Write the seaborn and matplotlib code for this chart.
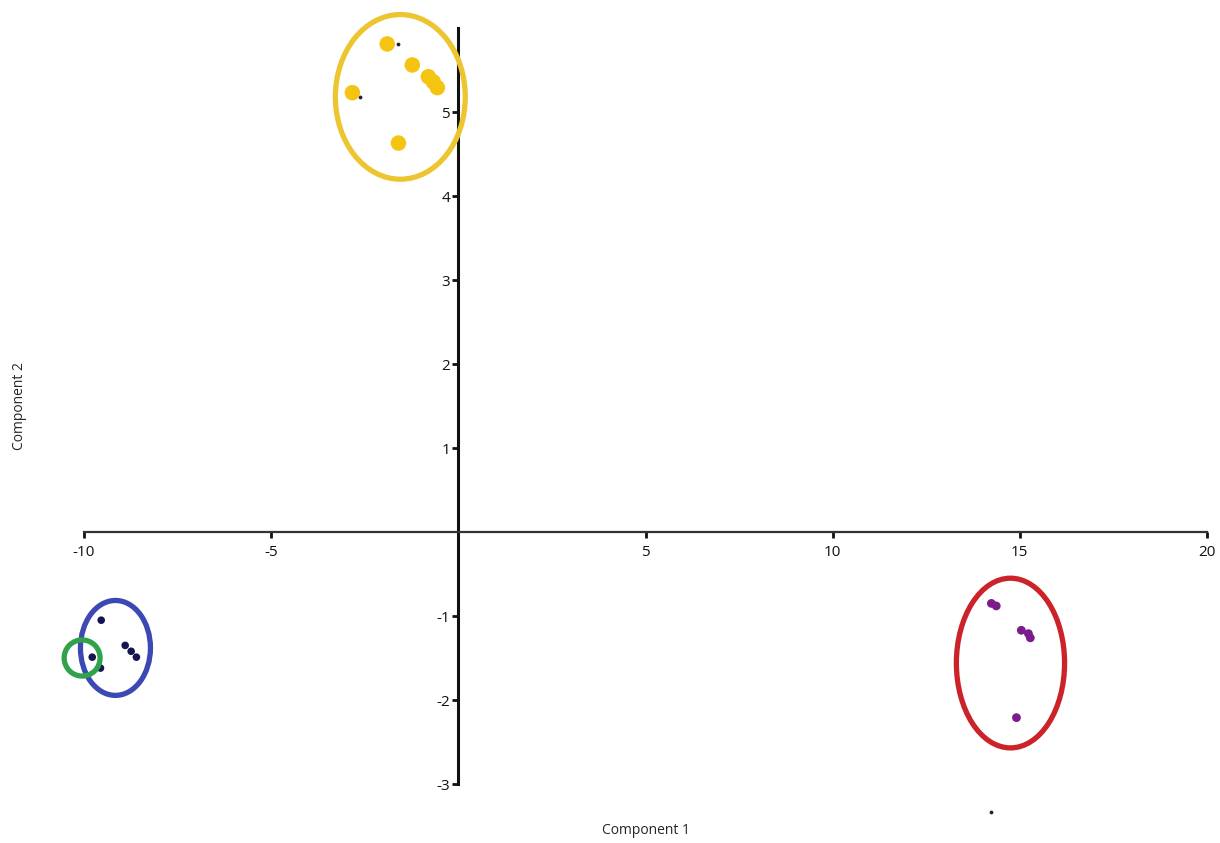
import numpy as np
import pandas as pd
import matplotlib
matplotlib.use("Agg")
import matplotlib.pyplot as plt
from matplotlib.patches import Ellipse
import seaborn as sns

# cluster points (Component 1, Component 2)
yellow_x = [-1.90, -1.23, -0.80, -0.67, -0.56, -2.83, -1.60]
yellow_y = [5.81, 5.56, 5.42, 5.36, 5.29, 5.23, 4.63]
navy_x = [-9.54, -8.90, -8.74, -8.60, -9.78, -9.56]
navy_y = [-1.05, -1.35, -1.42, -1.49, -1.49, -1.62]
purple_x = [14.24, 14.37, 15.04, 15.23, 15.28, 14.91]
purple_y = [-0.85, -0.88, -1.17, -1.21, -1.26, -2.21]
stray_x = [-2.62, -1.60, 14.24]
stray_y = [5.18, 5.81, -3.33]

x_ticks = [-10, -5, 5, 10, 15, 20]
y_ticks = [-3, -2, -1, 1, 2, 3, 4, 5]

df = pd.DataFrame({
    "c1": yellow_x + navy_x + purple_x,
    "c2": yellow_y + navy_y + purple_y,
    "group": ["yellow"] * len(yellow_x) + ["navy"] * len(navy_x) + ["purple"] * len(purple_x),
})

sns.set_style("white")
plt.rcParams['font.family'] = ['Open Sans', 'DejaVu Sans']

fig = plt.figure(figsize=(12.2, 8.43), dpi=100)
ax = fig.add_axes([84 / 1220, 1 - 784 / 843, 1123 / 1220, 756 / 843])

sns.scatterplot(data=df[df.group == "yellow"], x="c1", y="c2", color="#F5C413",
                s=125, edgecolor="none", ax=ax, legend=False, zorder=3)
sns.scatterplot(data=df[df.group == "navy"], x="c1", y="c2", color="#15154F",
                s=30, edgecolor="none", ax=ax, legend=False, zorder=3)
sns.scatterplot(data=df[df.group == "purple"], x="c1", y="c2", color="#7B1C8C",
                s=40, edgecolor="none", ax=ax, legend=False, zorder=3)
ax.scatter(stray_x, stray_y, s=3, color="#222244", zorder=2, clip_on=False)

# hand-drawn cluster rings
rings = [
    ((-1.55, 5.18), 3.47, 1.96, "#EDC530"),
    ((-9.16, -1.38), 1.87, 1.13, "#3C48B3"),
    ((-10.05, -1.50), 0.96, 0.43, "#2FA24A"),
    ((14.75, -1.56), 2.89, 2.02, "#CC2229"),
]
for (cx, cy), w, h, col in rings:
    ax.add_patch(Ellipse((cx, cy), w, h, fill=False, edgecolor=col, lw=3.8,
                         zorder=4, clip_on=False))

ax.set_xlim(-10, 20)
ax.set_ylim(-3, 6)
ax.spines["left"].set_position(("data", 0))
ax.spines["bottom"].set_position(("data", 0))
ax.spines["top"].set_visible(False)
ax.spines["right"].set_visible(False)
ax.spines["left"].set_linewidth(2.2)
ax.spines["bottom"].set_linewidth(1.6)
ax.spines["left"].set_color("#111111")
ax.spines["bottom"].set_color("#333333")
ax.set_xticks(x_ticks)
ax.set_yticks(y_ticks)
ax.set_xticklabels([str(t) for t in x_ticks])
ax.set_yticklabels([str(t) for t in y_ticks])
ax.tick_params(axis="x", bottom=True, direction="out", length=4, width=2, pad=5,
               labelsize=11, colors="#111111")
ax.tick_params(axis="y", left=True, direction="out", length=4, width=2, pad=2,
               labelsize=11, colors="#111111")
ax.grid(False)

ax.set_xlabel("Component 1", fontsize=10)
ax.set_ylabel("Component 2", fontsize=10)
ax.xaxis.set_label_coords(0.5, -0.052)
ax.yaxis.set_label_coords(-0.051, 0.5)

fig.savefig("out.png", dpi=100)
